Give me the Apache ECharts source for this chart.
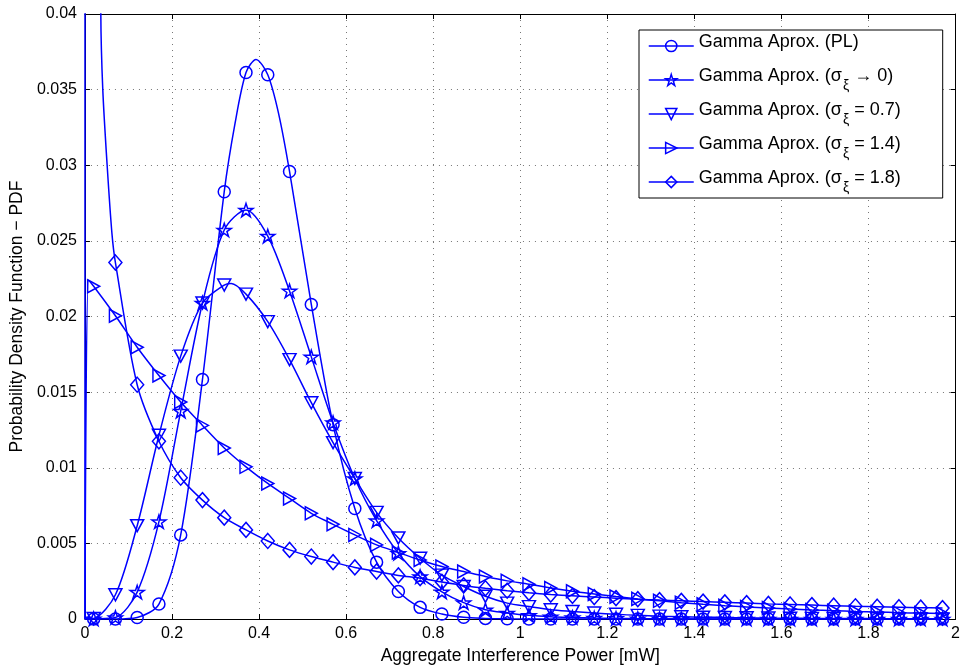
<!DOCTYPE html>
<html>
<head>
<meta charset="utf-8">
<script src="https://cdn.jsdelivr.net/npm/echarts@6/dist/echarts.min.js"></script>
<style>
  html, body { margin: 0; padding: 0; background: #fff; }
  #chart { width: 963px; height: 670px; }
</style>
</head>
<body>
<div id="chart"></div>
<script>
// Sample positions where markers are drawn (mW)
const markerX = [
  0.02, 0.07, 0.12, 0.17, 0.22, 0.27, 0.32, 0.37, 0.42, 0.47,
  0.52, 0.57, 0.62, 0.67, 0.72, 0.77, 0.82, 0.87, 0.92, 0.97,
  1.02, 1.07, 1.12, 1.17, 1.22, 1.27, 1.32, 1.37, 1.42, 1.47,
  1.52, 1.57, 1.62, 1.67, 1.72, 1.77, 1.82, 1.87, 1.92, 1.97
];

// PDF values at the marker positions
const pdfPL = [
  0, 0, 0.0001, 0.00099, 0.00556, 0.01584, 0.02825, 0.03613, 0.03598, 0.02959,
  0.0208, 0.01285, 0.00731, 0.00376, 0.00182, 0.00077, 0.00033, 0.00011, 0.00004, 0.00001,
  0, 0, 0, 0, 0, 0, 0, 0, 0, 0,
  0, 0, 0, 0, 0, 0, 0, 0, 0, 0
];
const pdfSigma0 = [
  0.00001, 0.0001, 0.00178, 0.00644, 0.01375, 0.02089, 0.02572, 0.02704, 0.02532, 0.02169,
  0.01733, 0.01298, 0.00929, 0.0065, 0.00435, 0.0028, 0.0018, 0.00108, 0.00061, 0.0004,
  0.00024, 0.00015, 0.0001, 0.00006, 0.00004, 0.00002, 0.00001, 0, 0, 0,
  0, 0, 0, 0, 0, 0, 0, 0, 0, 0
];
const pdfSigma07 = [
  0.00003, 0.0016, 0.00617, 0.01215, 0.01738, 0.02089, 0.02208, 0.02148, 0.01966, 0.01715,
  0.0143, 0.01166, 0.00929, 0.00705, 0.00536, 0.00402, 0.0029, 0.00215, 0.0015, 0.00105,
  0.00082, 0.00061, 0.0005, 0.0004, 0.00031, 0.00024, 0.00019, 0.00015, 0.00012, 0.0001,
  0.00008, 0.00006, 0.00005, 0.00004, 0.00003, 0.00003, 0.00002, 0.00002, 0.00001, 0.00001
];
const pdfSigma14 = [
  0.022, 0.02005, 0.01797, 0.0161, 0.01435, 0.0128, 0.01131, 0.01006, 0.00896, 0.00797,
  0.00699, 0.00626, 0.00556, 0.0049, 0.0044, 0.0039, 0.00347, 0.00314, 0.00281, 0.00252,
  0.0023, 0.00205, 0.00183, 0.00165, 0.00148, 0.00133, 0.0012, 0.00108, 0.00097, 0.00088,
  0.0008, 0.00073, 0.00066, 0.0006, 0.00055, 0.0005, 0.00046, 0.00042, 0.00039, 0.00036
];
const pdfSigma18 = [
  null, 0.02357, 0.01549, 0.01175, 0.00934, 0.00786, 0.0067, 0.00589, 0.00516, 0.00457,
  0.00413, 0.00376, 0.00341, 0.00314, 0.00288, 0.0027, 0.00245, 0.00222, 0.00203, 0.00187,
  0.00173, 0.00162, 0.00153, 0.00145, 0.00138, 0.00131, 0.00125, 0.0012, 0.00115, 0.0011,
  0.00105, 0.001, 0.00096, 0.00092, 0.00088, 0.00084, 0.00081, 0.00078, 0.00075, 0.00072
];

// Additional curve samples between markers (drawn without a marker)
const curvePL = [[0, 0], [0.345, 0.0328], [0.393, 0.0370], [0.445, 0.0334]];
const curveSigma0 = [[0, 0]];
const curveSigma07 = [[0, 0], [0.336, 0.02218]];
const curveSigma14 = [[0, 0], [0.008, 0.0224]];
const curveSigma18 = [[0, 0], [0.003, 0.25], [0.0365, 0.04], [0.041, 0.035], [0.051, 0.030], [0.062, 0.0255]];

// Axis ticks
const xTicks = [0, 0.2, 0.4, 0.6, 0.8, 1, 1.2, 1.4, 1.6, 1.8, 2];
const yTicks = [0, 0.005, 0.01, 0.015, 0.02, 0.025, 0.03, 0.035, 0.04];

const seriesNames = [
  'Gamma Aprox. (PL)',
  'Gamma Aprox. (σ_ξ → 0)',
  'Gamma Aprox. (σ_ξ = 0.7)',
  'Gamma Aprox. (σ_ξ = 1.4)',
  'Gamma Aprox. (σ_ξ = 1.8)'
];

const FONT = 'Liberation Sans, Arial, Helvetica, sans-serif';
const BLUE = '#0000ff';
const HOLLOW = 'rgba(255,255,255,0)';
const LW = 1.5;

// Outline of a five-pointed star for the pentagram marker
function starPath() {
  const pts = [];
  for (let k = 0; k < 10; k++) {
    const r = k % 2 === 0 ? 50 : 19.1;
    const a = -Math.PI / 2 + k * Math.PI / 5;
    pts.push((50 + r * Math.cos(a)).toFixed(2) + ' ' + (50 + r * Math.sin(a)).toFixed(2));
  }
  return 'path://M' + pts.join(' L') + ' Z';
}

function buildData(values, extra) {
  const pts = [];
  markerX.forEach((x, i) => {
    if (values[i] !== null) pts.push({ value: [x, values[i]] });
  });
  extra.forEach(p => pts.push({ value: p, symbol: 'none' }));
  pts.sort((a, b) => a.value[0] - b.value[0]);
  return pts;
}

function makeSeries(name, values, extra, symbol, size, rotate) {
  return {
    type: 'line',
    name: name,
    data: buildData(values, extra),
    smooth: 0.3,
    symbol: symbol,
    symbolSize: size,
    symbolRotate: rotate || 0,
    symbolKeepAspect: true,
    showAllSymbol: true,
    clip: true,
    color: BLUE,
    lineStyle: { color: BLUE, width: LW },
    itemStyle: { color: HOLLOW, borderColor: BLUE, borderWidth: LW },
    emphasis: { disabled: true },
    animation: false
  };
}

const chart = echarts.init(document.getElementById('chart'), null, { renderer: 'canvas' });

const axisBase = {
  type: 'value',
  axisLine: { show: true, onZero: false, lineStyle: { color: '#000', width: 1 } },
  axisTick: { show: true, inside: true, length: 5, lineStyle: { color: '#000', width: 1 } }
};
const gridLine = { show: true, lineStyle: { color: '#777', width: 1, type: [1, 5] } };

chart.setOption({
  backgroundColor: '#fff',
  animation: false,
  grid: { left: 84, top: 14, width: 874, height: 607, containLabel: false },
  xAxis: [
    Object.assign({}, axisBase, {
      position: 'bottom',
      min: xTicks[0], max: xTicks[xTicks.length - 1], interval: xTicks[1] - xTicks[0],
      axisLabel: { color: '#000', fontSize: 16, fontFamily: FONT, margin: 7 },
      splitLine: gridLine,
      name: 'Aggregate Interference Power [mW]',
      nameLocation: 'middle', nameGap: 28,
      nameTextStyle: { color: '#000', fontSize: 17.5, fontFamily: FONT }
    }),
    Object.assign({}, axisBase, {
      position: 'top',
      min: xTicks[0], max: xTicks[xTicks.length - 1], interval: xTicks[1] - xTicks[0],
      axisLabel: { show: false }, splitLine: { show: false }
    })
  ],
  yAxis: [
    Object.assign({}, axisBase, {
      position: 'left',
      min: yTicks[0], max: yTicks[yTicks.length - 1], interval: yTicks[1] - yTicks[0],
      axisLabel: { color: '#000', fontSize: 16, fontFamily: FONT, margin: 8 },
      splitLine: gridLine,
      name: 'Probability Density Function − PDF',
      nameLocation: 'middle', nameGap: 53,
      nameTextStyle: { color: '#000', fontSize: 17.5, fontFamily: FONT }
    }),
    Object.assign({}, axisBase, {
      position: 'right',
      min: yTicks[0], max: yTicks[yTicks.length - 1], interval: yTicks[1] - yTicks[0],
      axisLabel: { show: false }, splitLine: { show: false }
    })
  ],
  legend: {
    orient: 'vertical',
    left: 639, top: 30,
    itemWidth: 45, itemHeight: 14, itemGap: 8,
    padding: [3, 42, 3, 9],
    backgroundColor: '#fff',
    borderColor: '#000', borderWidth: 1,
    selectedMode: false,
    data: seriesNames,
    itemStyle: { color: HOLLOW, borderColor: BLUE, borderWidth: LW },
    lineStyle: { color: BLUE, width: LW },
    textStyle: {
      color: '#000', fontSize: 18, fontFamily: FONT,
      rich: {
        t: { fontSize: 18, fontFamily: FONT, color: '#000', lineHeight: 22, padding: [0, 0, 8, 0] },
        s: { fontSize: 14, fontFamily: FONT, color: '#000', lineHeight: 14, padding: [12, 0, 0, 1] }
      }
    },
    formatter: function (name) {
      const parts = name.split('_ξ');
      if (parts.length === 1) return '{t|' + name + '}';
      return '{t|' + parts[0] + '}{s|ξ}{t|' + parts[1] + '}';
    }
  },
  series: [
    makeSeries(seriesNames[0], pdfPL, curvePL, 'circle', 12),
    makeSeries(seriesNames[1], pdfSigma0, curveSigma0, starPath(), 14),
    makeSeries(seriesNames[2], pdfSigma07, curveSigma07, 'triangle', [13, 12], 180),
    makeSeries(seriesNames[3], pdfSigma14, curveSigma14, 'triangle', [13, 12], -90),
    makeSeries(seriesNames[4], pdfSigma18, curveSigma18, 'diamond', [13, 15])
  ]
});
</script>
</body>
</html>
